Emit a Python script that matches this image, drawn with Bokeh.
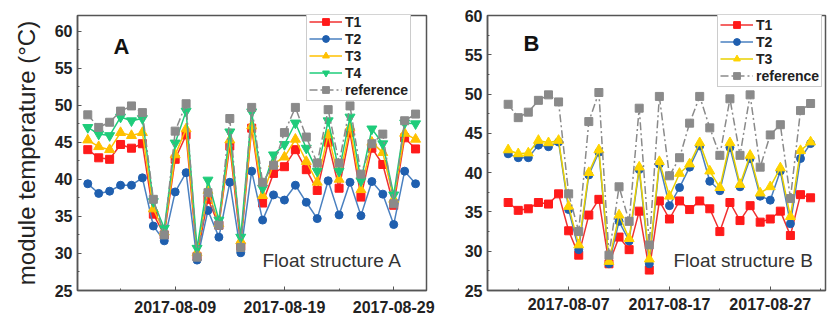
import pandas as pd
from bokeh.plotting import figure
from bokeh.models import (Range1d, FixedTicker, DatetimeTickFormatter, SingleIntervalTicker,
                          Legend, LegendItem, Label)
from bokeh.layouts import row
from bokeh.embed import file_html
from bokeh.resources import INLINE

# ---------------- data ----------------
dates = pd.date_range("2017-08-01", "2017-08-31", freq="D")

reference = [48.7, 47.0, 47.7, 49.2, 49.9, 49.0, 37.3, 32.5, 46.5, 50.2, 29.5, 38.2, 33.8, 48.2, 30.8,
             49.7, 39.6, 41.9, 46.3, 49.7, 45.7, 42.2, 49.4, 42.2, 49.9, 40.7, 44.8, 46.1, 36.7, 47.9, 48.8]

A_T1 = [44.0, 42.9, 42.7, 44.7, 44.2, 44.8, 35.3, 32.5, 42.7, 46.0, 29.6, 37.3, 33.8, 44.5, 31.0,
        46.9, 36.8, 40.8, 41.7, 44.0, 41.3, 38.5, 45.0, 38.8, 46.3, 37.6, 44.2, 42.0, 36.5, 45.6, 44.1]
A_T2 = [39.4, 38.1, 38.4, 39.2, 39.2, 40.2, 33.7, 31.7, 38.3, 40.9, 29.1, 35.8, 32.2, 39.6, 30.1,
        41.1, 34.5, 37.9, 37.2, 39.2, 36.9, 34.7, 39.8, 35.2, 39.6, 35.1, 39.7, 38.0, 33.9, 41.1, 39.4]
A_T3 = [45.3, 44.4, 44.0, 46.3, 45.9, 46.3, 36.0, 32.9, 43.3, 46.8, 30.1, 38.5, 34.0, 45.3, 31.7,
        47.2, 37.8, 42.1, 43.0, 45.4, 42.4, 39.6, 46.0, 40.0, 47.0, 38.6, 45.0, 43.6, 37.3, 46.2, 45.4]
A_T4 = [47.0, 46.1, 45.9, 48.4, 47.9, 48.2, 37.0, 33.4, 44.9, 49.2, 30.7, 39.9, 34.5, 46.4, 32.2,
        49.1, 38.8, 43.3, 44.7, 47.6, 44.2, 41.1, 47.9, 41.1, 48.4, 39.8, 46.8, 44.8, 37.9, 47.6, 47.5]

B_T1 = [36.2, 35.2, 35.4, 36.2, 36.0, 37.3, 32.6, 29.5, 34.6, 36.6, 28.4, 31.8, 30.2, 35.1, 27.6,
        36.4, 34.1, 36.4, 35.3, 36.4, 35.4, 32.5, 36.2, 33.9, 35.8, 33.7, 34.1, 35.1, 32.0, 37.2, 36.8]
B_T2 = [42.4, 41.9, 41.9, 43.5, 43.3, 43.9, 35.3, 30.2, 39.7, 42.6, 28.4, 33.8, 31.3, 40.4, 28.4,
        41.1, 35.8, 38.1, 40.7, 43.4, 38.9, 37.7, 43.2, 38.2, 41.8, 37.0, 36.5, 40.2, 33.5, 41.8, 43.7]
B_T3 = [42.9, 42.4, 42.5, 44.1, 43.8, 44.1, 35.7, 30.8, 40.0, 42.9, 28.7, 34.6, 31.6, 40.7, 29.0,
        41.4, 37.0, 39.9, 41.1, 43.8, 40.2, 38.1, 43.8, 38.5, 42.2, 37.4, 38.2, 40.6, 34.4, 42.8, 43.9]

A_ticks = ["2017-08-09", "2017-08-19", "2017-08-29"]
A_minor = ["2017-08-04", "2017-08-14", "2017-08-24"]
B_ticks = ["2017-08-07", "2017-08-17", "2017-08-27"]
B_minor = ["2017-08-02", "2017-08-12", "2017-08-22", "2017-09-01"]

FONT = "Liberation Sans"
AXC = "#555555"


def ms(s):
    return pd.Timestamp(s).value / 1e6


def style(p, ticks, minor, ylo, yhi, xstand):
    p.xaxis.ticker = FixedTicker(ticks=[ms(t) for t in ticks], minor_ticks=[ms(t) for t in minor])
    fmt = "%Y-%m-%d"
    p.xaxis.formatter = DatetimeTickFormatter(days=fmt, months=fmt, years=fmt, hours=fmt,
                                              hourmin=fmt, minutes=fmt, minsec=fmt, seconds=fmt,
                                              milliseconds=fmt, microseconds=fmt)
    p.yaxis.ticker = SingleIntervalTicker(interval=5, num_minor_ticks=2)
    p.y_range = Range1d(ylo, yhi)
    for ax in (p.xaxis[0], p.yaxis[0]):
        ax.axis_line_color = AXC
        ax.axis_line_width = 1.5
        ax.major_tick_line_color = AXC
        ax.minor_tick_line_color = AXC
        ax.major_tick_in = 4
        ax.major_tick_out = 0
        ax.minor_tick_in = 2
        ax.minor_tick_out = 0
        ax.major_label_text_font = FONT
        ax.major_label_text_font_style = "bold"
        ax.major_label_text_font_size = "16px"
        ax.major_label_text_color = "#222222"
    p.xaxis.major_label_standoff = xstand
    p.yaxis.major_label_standoff = 5
    p.xgrid.visible = False
    p.ygrid.visible = False
    p.outline_line_color = AXC
    p.outline_line_width = 1.5
    p.background_fill_color = "white"
    p.border_fill_color = "white"


def series(p, y, color, lcolor, marker, size, dash="solid"):
    r1 = p.line(dates, y, line_color=lcolor, line_width=1.5, line_dash=dash)
    r2 = p.scatter(dates, y, marker=marker, size=size, fill_color=color, line_color=color)
    return [r1, r2]


def add_legend(p, items, x, y):
    leg = Legend(items=[LegendItem(label=l, renderers=r) for l, r in items], location=(x, y))
    leg.label_text_font = FONT
    leg.label_text_font_style = "bold"
    leg.label_text_font_size = "14px"
    leg.label_text_color = "#222222"
    leg.glyph_width = 33
    leg.glyph_height = 17
    leg.label_height = 17
    leg.label_standoff = 3
    leg.spacing = 0
    leg.padding = 2
    leg.margin = 0
    leg.border_line_color = "#999999"
    leg.border_line_width = 1
    leg.background_fill_alpha = 1
    p.add_layout(leg)


day = pd.Timedelta(days=1)

# ---------------- panel A ----------------
pA = figure(width=440, height=320, x_axis_type="datetime", output_backend="svg",
            toolbar_location=None, min_border_left=77, min_border_right=14,
            min_border_top=12, min_border_bottom=30,
            x_range=Range1d(dates[0] - 0.94 * day, dates[0] + 31.0 * day))
style(pA, A_ticks, A_minor, 25, 62.1, 10)
pA.yaxis.axis_label = "module temperature (°C)"
pA.yaxis.axis_label_text_font = FONT
pA.yaxis.axis_label_text_font_style = "normal"
pA.yaxis.axis_label_text_font_size = "24px"
pA.yaxis.axis_label_text_color = "#222222"
pA.yaxis.axis_label_standoff = 12

rA1 = series(pA, A_T1, "#FF1A1A", "#F03030", "square", 8)
rA2 = series(pA, A_T2, "#1F5FAF", "#4A80C0", "circle", 8)
rA3 = series(pA, A_T3, "#FFC000", "#FFC000", "triangle", 10)
rA4 = series(pA, A_T4, "#1ECC7A", "#1ECC7A", "inverted_triangle", 10)
rAr = series(pA, reference, "#8A8A8A", "#8A8A8A", "square", 8, dash="8 3 2 3")
add_legend(pA, [("T1", rA1), ("T2", rA2), ("T3", rA3), ("T4", rA4), ("reference", rAr)], 229, 189)

pA.add_layout(Label(x=36, y=232, x_units="screen", y_units="screen", text="A",
                    text_font=FONT, text_font_style="bold", text_font_size="22px",
                    text_color="#111111"))
pA.add_layout(Label(x=185, y=20, x_units="screen", y_units="screen", text="Float structure A",
                    text_font=FONT, text_font_size="19px", text_color="#333333"))

# ---------------- panel B ----------------
pB = figure(width=387, height=320, x_axis_type="datetime", output_backend="svg",
            toolbar_location=None, min_border_left=47, min_border_right=2,
            min_border_top=15, min_border_bottom=27,
            x_range=Range1d(dates[0] - 2.05 * day, dates[0] + 31.48 * day))
style(pB, B_ticks, B_minor, 25, 60, 7)

rB1 = series(pB, B_T1, "#FF1A1A", "#F03030", "square", 8)
rB2 = series(pB, B_T2, "#1F5FAF", "#4A80C0", "circle", 8)
rB3 = series(pB, B_T3, "#FFD400", "#E8D000", "triangle", 10)
rBr = series(pB, reference, "#8A8A8A", "#8A8A8A", "square", 8, dash="8 3 2 3")
add_legend(pB, [("T1", rB1), ("T2", rB2), ("T3", rB3), ("reference", rBr)], 230, 203)

pB.add_layout(Label(x=36, y=235, x_units="screen", y_units="screen", text="B",
                    text_font=FONT, text_font_style="bold", text_font_size="22px",
                    text_color="#111111"))
pB.add_layout(Label(x=186, y=20, x_units="screen", y_units="screen", text="Float structure B",
                    text_font=FONT, text_font_size="19px", text_color="#333333"))

layout = row(pA, pB)
open("out.html", "w").write(file_html(layout, INLINE))
